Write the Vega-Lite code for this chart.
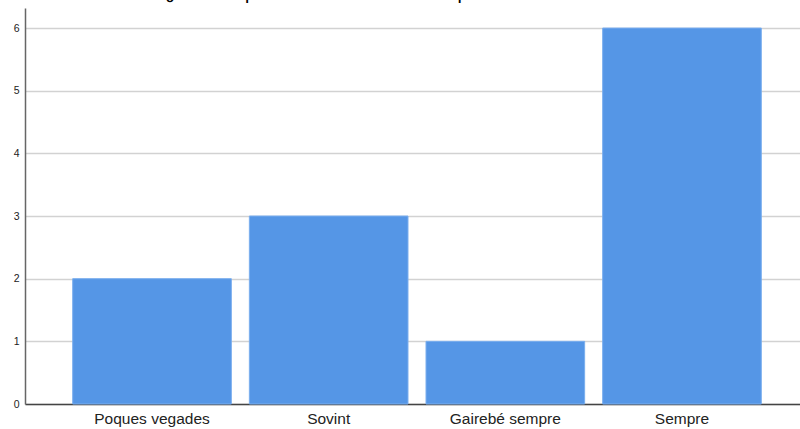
{
  "$schema": "https://vega.github.io/schema/vega-lite/v6.json",
  "autosize": "none",
  "width": 784,
  "height": 396,
  "padding": {"left": 25, "top": 8, "right": 0, "bottom": 25},
  "background": "white",
  "title": {
    "text": "¿Considera que està informat de les activitats que es realitzen al centre?",
    "font": "Liberation Sans",
    "fontSize": 13,
    "fontWeight": "bold",
    "color": "#000000",
    "anchor": "middle",
    "offset": 5,
    "dx": -26
  },
  "data": {
    "values": [
      {"resposta": "Poques vegades", "n": 2},
      {"resposta": "Sovint", "n": 3},
      {"resposta": "Gairebé sempre", "n": 1},
      {"resposta": "Sempre", "n": 6}
    ]
  },
  "mark": {"type": "bar", "color": "#5596e6", "stroke": "#7aaeee", "strokeWidth": 1},
  "encoding": {
    "x": {
      "field": "resposta",
      "type": "nominal",
      "sort": null,
      "title": null,
      "scale": {"paddingInner": 0.102, "paddingOuter": 0.27},
      "axis": {
        "labelAngle": 0,
        "labelFont": "Liberation Sans",
        "labelFontSize": 15.5,
        "labelColor": "#222222",
        "labelPadding": 7,
        "ticks": false,
        "domainColor": "#444444",
        "domainWidth": 1.5
      }
    },
    "y": {
      "field": "n",
      "type": "quantitative",
      "title": null,
      "scale": {"domain": [0, 6.32], "nice": false},
      "axis": {
        "values": [0, 1, 2, 3, 4, 5, 6],
        "labelFont": "Liberation Sans",
        "labelFontSize": 10.5,
        "labelColor": "#222222",
        "labelPadding": 6,
        "ticks": false,
        "domainColor": "#666666",
        "domainWidth": 1.5,
        "grid": true,
        "gridColor": "#d2d2d2",
        "gridWidth": 1.5
      }
    }
  },
  "config": {"view": {"stroke": null}}
}
